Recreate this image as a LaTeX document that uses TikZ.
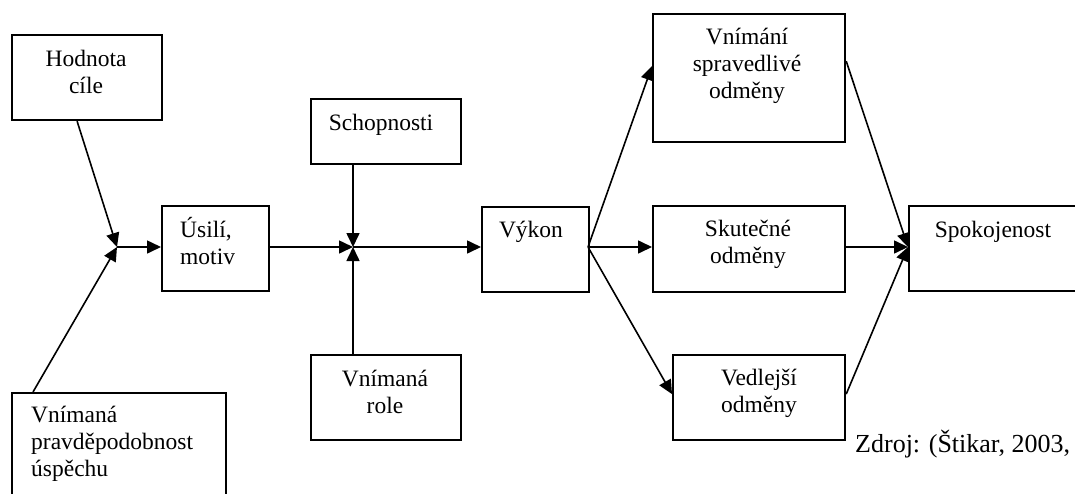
\documentclass[tikz,border=0pt]{standalone}
\usepackage{fontspec}
\setmainfont{Liberation Serif}
\usetikzlibrary{arrows.meta,calc}
\begin{document}
\begin{tikzpicture}[x=1pt,y=-1pt,
  box/.style={draw, line width=2.2pt, inner sep=0pt, anchor=north west},
  lbl/.style={inner sep=0pt, font=\fontsize{23.5}{27}\selectfont, anchor=base, align=center},
  lbll/.style={lbl, anchor=base west, align=left},
  conn/.style={line width=1.6pt, -{Triangle[length=14pt,width=13pt]}}]
\useasboundingbox (0,0) rectangle (1075,493);
\clip (0,0) rectangle (1075,493);

% boxes
\node[box, minimum width=150pt, minimum height=85pt]  (hod)  at (11,34)   {};
\node[box, minimum width=214pt, minimum height=130pt] (vpp)  at (11,392)  {};
\node[box, minimum width=107pt, minimum height=85pt]  (usi)  at (161,205) {};
\node[box, minimum width=150pt, minimum height=65pt]  (sch)  at (310,98)  {};
\node[box, minimum width=150pt, minimum height=85pt]  (vrol) at (310,354) {};
\node[box, minimum width=107pt, minimum height=85pt]  (vyk)  at (481,206) {};
\node[box, minimum width=192pt, minimum height=128pt] (vsp)  at (652,13)  {};
\node[box, minimum width=192pt, minimum height=86pt]  (sku)  at (652,205) {};
\node[box, minimum width=172pt, minimum height=85pt]  (ved)  at (672,354) {};
\node[box, minimum width=200pt, minimum height=85pt]  (spo)  at (908,205) {};

% labels (anchored at the baseline of their last line)
\node[lbl]  (thod)  at (86,93)   {Hodnota\\cíle};
\node[lbll] (tvpp)  at (31,476)  {Vnímaná\\pravděpodobnost\\úspěchu};
\node[lbll] (tusi)  at (180,264) {Úsilí,\\motiv};
\node[lbl]  (tsch)  at (381,130) {Schopnosti};
\node[lbl]  (tvrol) at (385,413) {Vnímaná\\role};
\node[lbl]  (tvyk)  at (531,237) {Výkon};
\node[lbl]  (tvsp)  at (747,98)  {Vnímání\\spravedlivé\\odměny};
\node[lbl]  (tsku)  at (748,263) {Skutečné\\odměny};
\node[lbl]  (tved)  at (759,412) {Vedlejší\\odměny};
\node[lbl]  (tspo)  at (993,237) {Spokojenost};
\node[inner sep=0pt, anchor=base west, font=\fontsize{26}{30}\selectfont] (src) at (855,452) {Zdroj: (Štikar, 2003,};

% junction points
\coordinate (j1) at (117,247);
\coordinate (j2) at (353,247);
\coordinate (j3) at (588,247);

% connectors
\draw[conn] ([xshift=-10pt]hod.south) -- (j1);
\draw[conn] ([xshift=22pt]vpp.north west) -- (j1);
\draw[conn] (j1) -- (j1 -| usi.west);
\draw[conn] (j2 -| usi.east) -- (j2);
\draw[conn] (j2 |- sch.south) -- (j2);
\draw[conn] (j2 |- vrol.north) -- (j2);
\draw[conn] (j2) -- (j2 -| vyk.west);
\draw[conn] (j3) -- ([yshift=12pt]vsp.west);
\draw[conn] (j3) -- (j3 -| sku.west);
\draw[conn] (j3) -- ([yshift=3.5pt]ved.west);
\draw[conn] ([yshift=17pt]vsp.east) -- (j3 -| spo.west);
\draw[conn] (j3 -| sku.east) -- (j3 -| spo.west);
\draw[conn] ([yshift=3.5pt]ved.east) -- (j3 -| spo.west);
\end{tikzpicture}
\end{document}
